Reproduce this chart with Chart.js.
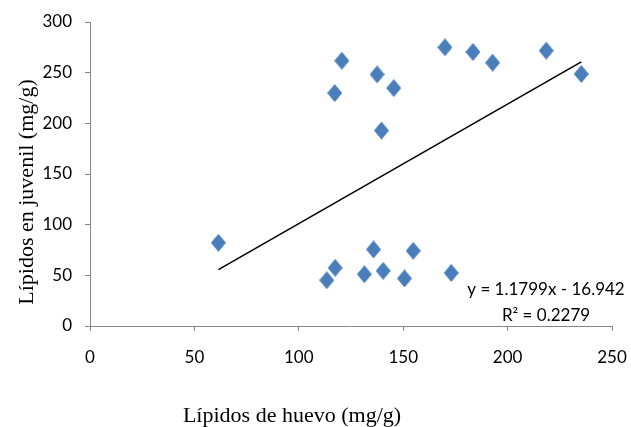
<!DOCTYPE html>
<html><head><meta charset="utf-8">
<script src="https://cdn.jsdelivr.net/npm/chart.js@4/dist/chart.umd.min.js"></script>
<style>html,body{margin:0;padding:0;background:#fff;}#wrap{width:631px;height:427px;}</style>
</head><body><div id="wrap"><canvas id="c" width="631" height="427"></canvas></div>
<script>
// ---- data ----
const eggLipids      = [61.5, 113.4, 117.4, 117.2, 120.6, 131.4, 135.8, 137.5, 139.6, 140.4, 145.5, 150.6, 154.8, 170.0, 173.0, 183.4, 192.8, 218.5, 235.3];
const juvenileLipids = [82.1,  45.2,  57.4, 229.9, 261.8,  51.1,  75.6, 248.3, 192.9,  54.4, 234.8,  46.9,  74.2, 275.0,  52.4, 270.4, 259.8, 271.7, 248.7];
const xTicks = [0, 50, 100, 150, 200, 250];
const yTicks = [0, 50, 100, 150, 200, 250, 300];
const trendSlope = 1.1799;
const trendIntercept = -16.942;
const equationText = 'y = 1.1799x - 16.942';
const r2Text = 'R\u00B2 = 0.2279';
const xTitle = 'Lípidos de huevo (mg/g)';
const yTitle = 'Lípidos en juvenil (mg/g)';

// ---- build ----
const points = eggLipids.map((x, i) => ({x: x, y: juvenileLipids[i]}));
const xMinData = Math.min(...eggLipids), xMaxData = Math.max(...eggLipids);
const trend = [xMinData, xMaxData].map(x => ({x: x, y: trendSlope * x + trendIntercept}));

const diamond = document.createElement('canvas');
diamond.width = 15; diamond.height = 18;
(function(){
  const g = diamond.getContext('2d');
  g.fillStyle = '#4A7EBB';
  g.beginPath();
  g.moveTo(7.5, 0); g.lineTo(15, 9); g.lineTo(7.5, 18); g.lineTo(0, 9); g.closePath();
  g.fill();
})();

const TICK_FONT = {family: 'Lato', size: 17};
const AXIS_GREY = '#868686';

const textPlugin = {
  id: 'texts',
  afterDraw(chart) {
    const ctx = chart.ctx;
    ctx.save();
    ctx.fillStyle = '#000';
    ctx.font = '17px Lato';
    ctx.textAlign = 'center';
    ctx.textBaseline = 'alphabetic';
    ctx.fillText(equationText, 546, 295);
    ctx.fillText(r2Text, 546, 320.5);
    ctx.font = '22px "Liberation Serif"';
    ctx.fillText(xTitle, 292, 421.5);
    ctx.translate(33, 192);
    ctx.rotate(-Math.PI / 2);
    ctx.fillText(yTitle, 0, 0);
    ctx.restore();
  }
};

new Chart(document.getElementById('c'), {
  type: 'scatter',
  data: {
    datasets: [
      {label: 'data', data: points, pointStyle: diamond, pointRadius: 8, showLine: false, order: 1},
      {type: 'line', label: 'trend', data: trend, borderColor: '#000', borderWidth: 1.6, pointRadius: 0, fill: false, order: 2}
    ]
  },
  options: {
    responsive: false,
    animation: false,
    devicePixelRatio: 1,
    layout: {padding: {top: 22, right: 19, left: 0, bottom: 0}},
    plugins: {legend: {display: false}, tooltip: {enabled: false}},
    scales: {
      x: {
        type: 'linear', min: 0, max: 250,
        afterBuildTicks: s => { s.ticks = xTicks.map(v => ({value: v})); },
        afterFit: s => { s.height = 101; s.paddingLeft = 0; s.paddingRight = 0; },
        ticks: {font: TICK_FONT, color: '#000', padding: 16, maxRotation: 0},
        grid: {drawOnChartArea: false, tickLength: 5, color: AXIS_GREY},
        border: {color: AXIS_GREY, width: 1}
      },
      y: {
        type: 'linear', min: 0, max: 300,
        afterBuildTicks: s => { s.ticks = yTicks.map(v => ({value: v})); },
        afterFit: s => { s.width = 90; s.paddingTop = 0; s.paddingBottom = 0; },
        ticks: {font: TICK_FONT, color: '#000', padding: 13},
        grid: {drawOnChartArea: false, tickLength: 5, color: AXIS_GREY},
        border: {color: AXIS_GREY, width: 1}
      }
    }
  },
  plugins: [textPlugin]
});
</script>
</body></html>
